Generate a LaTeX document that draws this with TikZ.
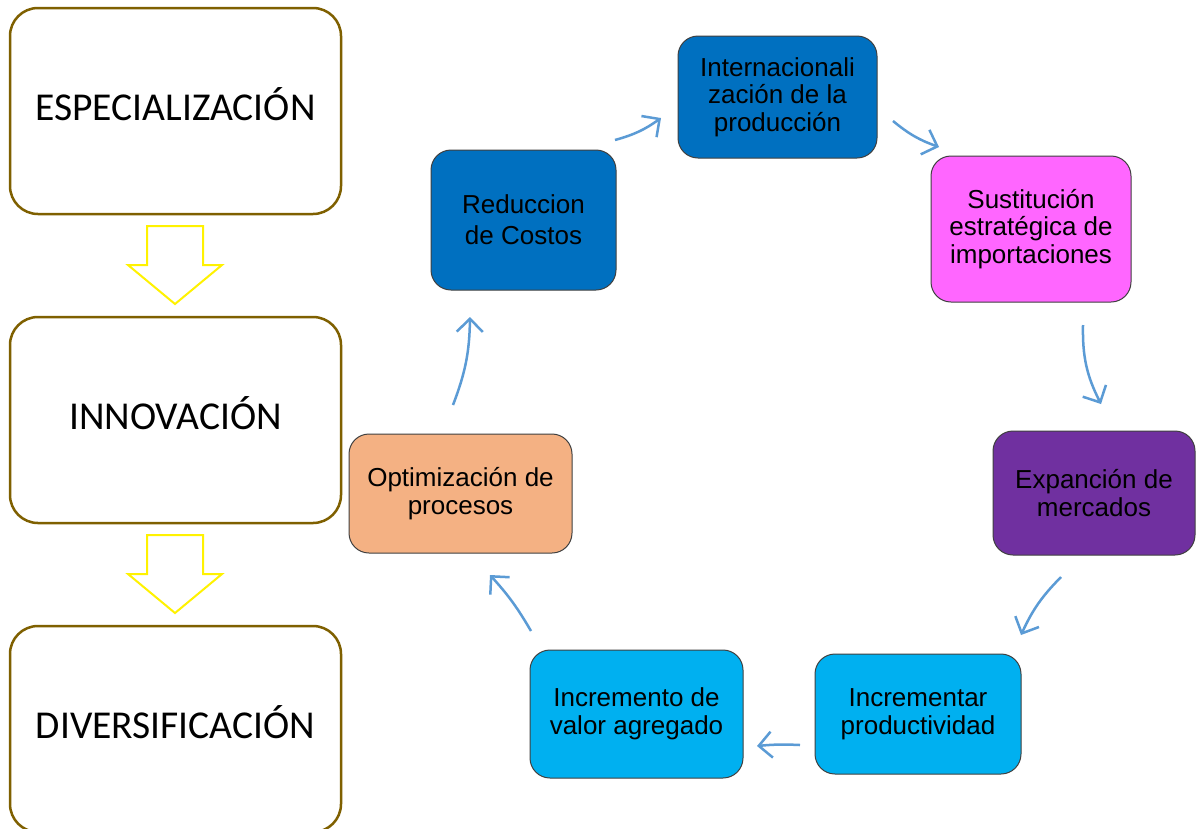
\documentclass[tikz,border=0pt]{standalone}
\usepackage{fontspec}
\setmainfont{Liberation Sans}
\newfontfamily\calib{Carlito}
\usetikzlibrary{arrows.meta,positioning}
\definecolor{gold}{HTML}{7F6000}
\definecolor{dblue}{HTML}{0070C0}
\definecolor{magen}{HTML}{FF66FF}
\definecolor{purp}{HTML}{7030A0}
\definecolor{lblue}{HTML}{00B0F0}
\definecolor{orng}{HTML}{F4B183}
\definecolor{arrowblue}{HTML}{5B9BD5}
\definecolor{edgegray}{HTML}{404040}
\tikzset{
  leftbox/.style={draw=gold, line width=2.5pt, rounded corners=28pt, fill=white,
    minimum width=331pt, minimum height=206pt, inner sep=0pt},
  lefttext/.style={inner sep=0pt, font=\calib\fontsize{39.5}{44}\selectfont},
  cyclebox/.style={draw=edgegray, line width=1pt, rounded corners=20pt,
    inner sep=0pt, align=center, text=black,
    font=\fontsize{26}{27.5}\selectfont},
  blockarrow/.style={draw=yellow, line width=2pt, fill=white},
  cyclearrow/.style={draw=arrowblue, line width=2.5pt,
    -{Straight Barb[length=13pt,width=26pt]}, bend right=10}
}
\begin{document}
\begin{tikzpicture}[x=1pt,y=-1pt]
\useasboundingbox (0,0) rectangle (1198,828);
\clip (0,0) rectangle (1198,828);
\fill[white] (0,0) rectangle (1198,828);
% left column
\node[leftbox] (esp) at (175.5,111) {};
\node[leftbox] (inn) at (175.5,420) {};
\node[leftbox] (div) at (175.5,729) {};
\node[lefttext] (espt) at ([yshift=7pt]esp.center) {ESPECIALIZACIÓN};
\node[lefttext] (innt) at ([yshift=7pt]inn.center) {INNOVACIÓN};
\node[lefttext] (divt) at ([yshift=7pt]div.center) {DIVERSIFICACIÓN};
% block arrows
\draw[blockarrow] (147,226) -- (203,226) -- (203,265) -- (222,265) -- (175,304) -- (128,265) -- (147,265) -- cycle;
\draw[blockarrow] (147,535) -- (203,535) -- (203,574) -- (222,574) -- (175,613) -- (128,574) -- (147,574) -- cycle;
% cycle boxes
\node[cyclebox, fill=dblue, minimum width=199pt, minimum height=122pt] (intl) at (777.5,97) {Internacionali\\zación de la\\producción};
\node[cyclebox, fill=magen, minimum width=200pt, minimum height=146pt] (sust) at (1031,229) {Sustitución\\estratégica de\\importaciones};
\node[cyclebox, fill=purp, minimum width=202pt, minimum height=124pt] (exp) at (1094,493) {Expanción de\\mercados};
\node[cyclebox, fill=lblue, minimum width=206pt, minimum height=120pt] (prod) at (918,714) {Incrementar\\productividad};
\node[cyclebox, fill=lblue, minimum width=213pt, minimum height=128pt] (valor) at (636.5,714) {Incremento de\\valor agregado};
\node[cyclebox, fill=orng, minimum width=223pt, minimum height=119pt] (opt) at (460.5,493.5) {Optimización de\\procesos};
\node[cyclebox, fill=dblue, minimum width=185pt, minimum height=140pt, font=\fontsize{26}{31}\selectfont] (red) at (523.5,220) {Reduccion\\de Costos};
% arrow end points
\coordinate (a1s) at (615,140); \coordinate (a1e) at (661,118);
\coordinate (a2s) at (893,121); \coordinate (a2e) at (939,147);
\coordinate (a3s) at (1083,325); \coordinate (a3e) at (1101,404);
\coordinate (a4s) at (1061,577); \coordinate (a4e) at (1021,635);
\coordinate (a5s) at (800,745); \coordinate (a5e) at (757,746);
\coordinate (a6s) at (531,631); \coordinate (a6e) at (490,575);
\coordinate (a7s) at (453,405); \coordinate (a7e) at (470,317);
\draw[cyclearrow] (a1s) to (a1e);
\draw[cyclearrow] (a2s) to (a2e);
\draw[cyclearrow, bend right=14] (a3s) to (a3e);
\draw[cyclearrow] (a4s) to (a4e);
\draw[cyclearrow, bend right=4] (a5s) to (a5e);
\draw[cyclearrow, bend right=6] (a6s) to (a6e);
\draw[cyclearrow] (a7s) to (a7e);
\end{tikzpicture}
\end{document}
